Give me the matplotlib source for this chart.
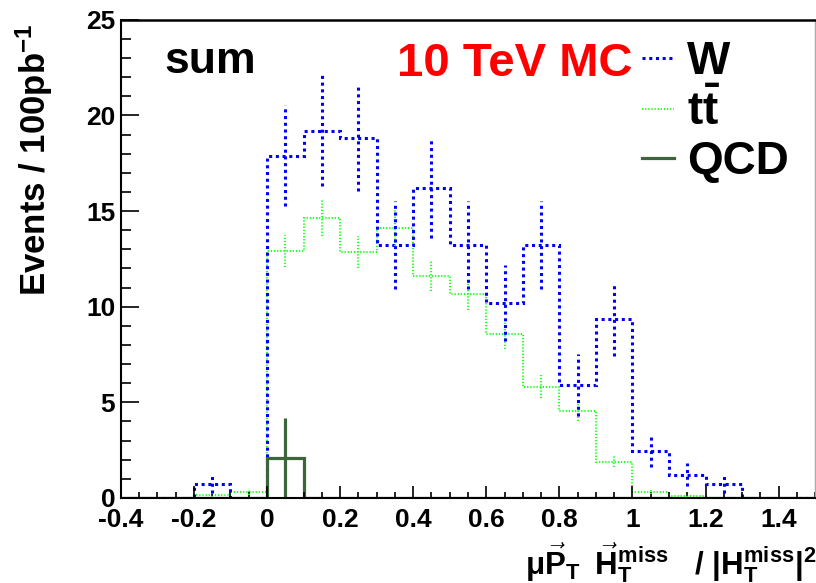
import matplotlib
matplotlib.use("Agg")
import matplotlib.pyplot as plt
from matplotlib.lines import Line2D
import numpy as np

# bins of 0.1 from -0.4 to 1.5
edges = np.round(np.arange(-0.4, 1.5001, 0.1), 2)

w_vals = [0, 0, 0.75, 0, 17.9, 19.2, 18.8, 13.2, 16.2, 13.2, 10.2, 13.2, 5.9, 9.35, 2.45, 1.2, 0.75, 0, 0]
w_errs = [0, 0, 0.5, 0, 2.65, 2.9, 2.75, 2.3, 2.6, 2.3, 2.0, 2.3, 1.6, 1.95, 0.85, 0.6, 0.5, 0, 0]

tt_vals = [0, 0, 0.15, 0.3, 12.9, 14.65, 12.85, 14.1, 11.6, 10.65, 8.55, 5.8, 4.55, 1.9, 0.3, 0.1, 0, 0, 0]
tt_errs = [0, 0, 0.1, 0.15, 0.85, 0.95, 0.85, 0.95, 0.8, 0.8, 0.75, 0.6, 0.55, 0.3, 0.1, 0.05, 0, 0, 0]

qcd_vals = [0, 0, 0, 0, 2.1, 0, 0, 0, 0, 0, 0, 0, 0, 0, 0, 0, 0, 0, 0]
qcd_errs = [0, 0, 0, 0, 2.1, 0, 0, 0, 0, 0, 0, 0, 0, 0, 0, 0, 0, 0, 0]

xticks = [-0.4, -0.2, 0, 0.2, 0.4, 0.6, 0.8, 1.0, 1.2, 1.4]
xticklabels = ["-0.4", "-0.2", "0", "0.2", "0.4", "0.6", "0.8", "1", "1.2", "1.4"]
yticks = [0, 5, 10, 15, 20, 25]

plt.rcParams["font.family"] = ["Liberation Sans", "DejaVu Sans"]
plt.rcParams["font.weight"] = "bold"
plt.rcParams["mathtext.fontset"] = "custom"
plt.rcParams["mathtext.rm"] = "Liberation Sans:bold"
plt.rcParams["mathtext.it"] = "Liberation Sans:bold"
plt.rcParams["mathtext.bf"] = "Liberation Sans:bold"
plt.rcParams["mathtext.sf"] = "Liberation Sans:bold"
plt.rcParams["mathtext.default"] = "rm"

BLUE = "#0000ff"
GREEN = "#22ff22"
DKGREEN = "#3b663b"
W_LS = (0, (1, 1.2))
TT_LS = (0, (0.6, 0.9))

fig = plt.figure(figsize=(8.16, 5.83), dpi=100)
ax = fig.add_axes([0.148, 0.146, 0.851, 0.82])

centers = 0.5 * (edges[:-1] + edges[1:])


def draw(vals, errs, color, lw, ls):
    ax.stairs(vals, edges, color=color, lw=lw, ls=ls)
    v = np.array(vals)
    e = np.array(errs)
    m = e > 0
    ax.vlines(centers[m], v[m] - e[m], v[m] + e[m], color=color, lw=lw, linestyles=[ls])


draw(tt_vals, tt_errs, GREEN, 1.5, TT_LS)
draw(w_vals, w_errs, BLUE, 2.2, W_LS)
draw(qcd_vals, qcd_errs, DKGREEN, 2.3, "-")

ax.set_xlim(-0.4, 1.5)
ax.set_ylim(0, 25)
ax.set_xticks(xticks)
ax.set_xticklabels(xticklabels)
ax.set_yticks(yticks)
ax.set_xticks(np.arange(-0.4, 1.5001, 0.05), minor=True)
ax.set_yticks(np.arange(0, 25.01, 1), minor=True)
ax.tick_params(axis="both", which="both", direction="in", labelsize=19, width=1.2)
ax.tick_params(axis="x", which="major", length=9, pad=7)
ax.tick_params(axis="x", which="minor", length=4)
ax.tick_params(axis="y", which="major", length=13, pad=4)
ax.tick_params(axis="y", which="minor", length=7)
for lab in ax.get_xticklabels() + ax.get_yticklabels():
    lab.set_fontweight("bold")

ax.spines["left"].set_linewidth(1.5)
ax.spines["top"].set_linewidth(1.8)
ax.spines["bottom"].set_linewidth(1.5)
ax.spines["right"].set_color("#aaaaaa")
ax.spines["right"].set_linewidth(1.0)

ax.set_ylabel(r"Events / 100pb$^{-1}$", fontsize=25, fontweight="bold")
ax.yaxis.set_label_coords(-0.094, 0.708)

ax.set_xlabel(r"$\mu\vec{P}_{T}\;\;\vec{H}_{T}^{miss}$   / $|H_{T}^{miss}|^{2}$",
              fontsize=22.5, fontweight="bold", ha="right", va="baseline")
ax.xaxis.set_label_coords(1.002, -0.161)

ax.text(0.063, 0.889, "sum", transform=ax.transAxes, fontsize=32, fontweight="bold")
ax.text(0.398, 0.883, "10 TeV MC", transform=ax.transAxes, fontsize=34,
        fontweight="bold", color="red")

handles = [
    Line2D([], [], color=BLUE, lw=2.2, ls=W_LS),
    Line2D([], [], color=GREEN, lw=1.5, ls=TT_LS),
    Line2D([], [], color=DKGREEN, lw=2.3),
]
ax.legend(handles, ["W", r"$t\bar{t}$", "QCD"], loc="upper left",
          bbox_to_anchor=(0.717, 1.005), frameon=False, fontsize=33,
          handlelength=0.7, handletextpad=0.3, labelspacing=0.12, borderpad=0)

fig.savefig("out.png", dpi=100)
